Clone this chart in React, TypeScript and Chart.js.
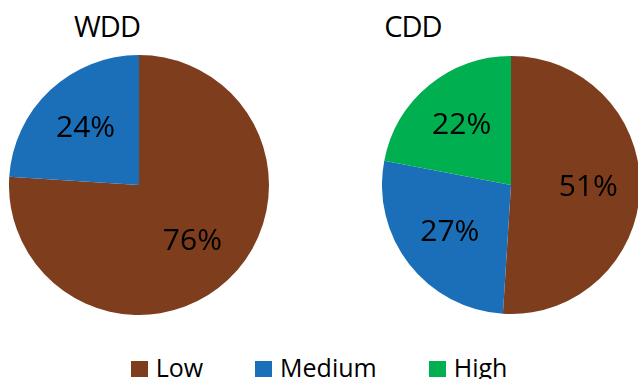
import React, { useEffect, useRef } from "react";
import { Chart, registerables } from "chart.js";

Chart.register(...registerables);

const categories = ["Low", "Medium", "High"];
const colors = ["#7E3D1D", "#1A6FB8", "#00AF50"];
const wddValues = [76, 24, 0];
const cddValues = [51, 27, 22];
const titles = ["WDD", "CDD"];

const FONT = "'Open Sans', 'Noto Sans', sans-serif";

const labelPlugin = {
  id: "pctLabels",
  afterDatasetsDraw(chart: any) {
    const ctx = chart.ctx;
    const meta = chart.getDatasetMeta(0);
    const data = chart.data.datasets[0].data as number[];
    ctx.save();
    ctx.fillStyle = "#000";
    ctx.font = `30px ${FONT}`;
    ctx.textAlign = "center";
    ctx.textBaseline = "middle";
    meta.data.forEach((arc: any, i: number) => {
      const v = data[i];
      if (!v) return;
      const { startAngle, endAngle, outerRadius, x, y } = arc.getProps(
        ["startAngle", "endAngle", "outerRadius", "x", "y"],
        true
      );
      const mid = (startAngle + endAngle) / 2;
      const r = outerRadius * 0.6;
      ctx.fillText(`${v}%`, x + Math.cos(mid) * r, y + Math.sin(mid) * r);
    });
    ctx.restore();
  },
};

function Pie({ values, size }: { values: number[]; size: number }) {
  const ref = useRef<HTMLCanvasElement>(null);
  useEffect(() => {
    const chart = new Chart(ref.current!, {
      type: "pie",
      data: {
        labels: categories,
        datasets: [
          {
            data: values,
            backgroundColor: colors,
            borderWidth: 0,
          },
        ],
      },
      options: {
        animation: false,
        responsive: false,
        maintainAspectRatio: false,
        layout: { padding: 0 },
        plugins: {
          legend: { display: false },
          tooltip: { enabled: false },
          title: { display: false },
        },
      },
      plugins: [labelPlugin],
    });
    return () => chart.destroy();
  }, []);
  return <canvas ref={ref} width={size} height={size} style={{ width: size, height: size }} />;
}

export default function App() {
  const titleStyle: React.CSSProperties = {
    position: "absolute",
    top: 4,
    width: 100,
    textAlign: "center",
    fontSize: 29,
    lineHeight: "44px",
    color: "#000",
    letterSpacing: -1,
  };
  return (
    <div
      style={{
        position: "absolute",
        left: 0,
        top: 0,
        width: 638,
        height: 379,
        overflow: "hidden",
        background: "#fff",
        fontFamily: FONT,
      }}
    >
      <div style={{ ...titleStyle, left: 57 }}>{titles[0]}</div>
      <div style={{ ...titleStyle, left: 363 }}>{titles[1]}</div>
      <div style={{ position: "absolute", left: 9, top: 55 }}>
        <Pie values={wddValues} size={260} />
      </div>
      <div style={{ position: "absolute", left: 382, top: 56 }}>
        <Pie values={cddValues} size={258} />
      </div>
      <div
        style={{
          position: "absolute",
          left: 0,
          width: 638,
          top: 352,
          display: "flex",
          justifyContent: "center",
          alignItems: "center",
          fontSize: 25,
          lineHeight: "30px",
          color: "#000",
        }}
      >
        {categories.map((c, i) => (
          <div key={c} style={{ display: "flex", alignItems: "center", marginLeft: i === 0 ? 0 : 52 }}>
            <span style={{ display: "inline-block", width: 17, height: 16, background: colors[i], marginRight: 8, marginTop: 4 }} />
            <span>{c}</span>
          </div>
        ))}
      </div>
    </div>
  );
}
